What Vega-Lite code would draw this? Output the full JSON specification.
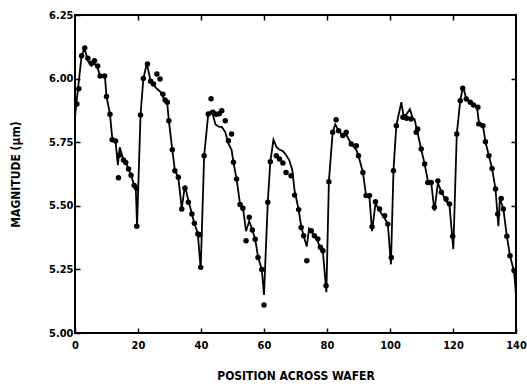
{
  "$schema": "https://vega.github.io/schema/vega-lite/v6.json",
  "width": 441,
  "height": 318,
  "autosize": {"type": "none"},
  "padding": {"left": 75, "top": 15, "right": 11, "bottom": 53},
  "background": "white",
  "config": {
    "view": {"stroke": "black", "strokeWidth": 2},
    "axis": {
      "grid": false,
      "domain": false,
      "tickColor": "black",
      "tickWidth": 1.5,
      "tickSize": -5,
      "labelColor": "black",
      "labelFont": "DejaVu Sans Condensed, DejaVu Sans",
      "labelFontWeight": "bold",
      "labelFontSize": 11,
      "titleColor": "black",
      "titleFont": "DejaVu Sans Condensed, DejaVu Sans",
      "titleFontWeight": "bold",
      "titleFontSize": 12
    }
  },
  "datasets": {
    "pts": [
      {"x": 0.6, "v": 5.90}, {"x": 1.2, "v": 5.96}, {"x": 2.1, "v": 6.09}, {"x": 3.1, "v": 6.12}, {"x": 4.1, "v": 6.08},
      {"x": 5.2, "v": 6.06}, {"x": 6.2, "v": 6.07}, {"x": 7.2, "v": 6.05}, {"x": 8.0, "v": 6.01}, {"x": 9.4, "v": 6.01},
      {"x": 10.0, "v": 5.93}, {"x": 11.1, "v": 5.86}, {"x": 11.8, "v": 5.76}, {"x": 12.9, "v": 5.755}, {"x": 13.8, "v": 5.61},
      {"x": 14.1, "v": 5.70}, {"x": 15.4, "v": 5.68}, {"x": 16.1, "v": 5.67}, {"x": 17.0, "v": 5.645}, {"x": 17.8, "v": 5.62},
      {"x": 18.8, "v": 5.58}, {"x": 19.5, "v": 5.57}, {"x": 19.6, "v": 5.42},
      {"x": 20.8, "v": 5.857}, {"x": 21.7, "v": 6.0}, {"x": 23.0, "v": 6.057}, {"x": 24.0, "v": 5.99}, {"x": 24.9, "v": 5.979},
      {"x": 26.0, "v": 6.018}, {"x": 27.0, "v": 5.998}, {"x": 27.9, "v": 5.939}, {"x": 28.6, "v": 5.916}, {"x": 29.3, "v": 5.907},
      {"x": 29.8, "v": 5.834}, {"x": 30.9, "v": 5.72}, {"x": 31.7, "v": 5.638}, {"x": 32.8, "v": 5.612}, {"x": 33.9, "v": 5.487},
      {"x": 34.9, "v": 5.569}, {"x": 36.0, "v": 5.514}, {"x": 37.1, "v": 5.468}, {"x": 37.9, "v": 5.431}, {"x": 39.0, "v": 5.389},
      {"x": 39.6, "v": 5.386}, {"x": 39.9, "v": 5.258},
      {"x": 41.0, "v": 5.697}, {"x": 42.3, "v": 5.861}, {"x": 43.2, "v": 5.921}, {"x": 43.8, "v": 5.868}, {"x": 44.8, "v": 5.86},
      {"x": 45.8, "v": 5.862}, {"x": 46.6, "v": 5.874}, {"x": 47.7, "v": 5.834}, {"x": 48.7, "v": 5.756}, {"x": 49.7, "v": 5.782},
      {"x": 50.3, "v": 5.671}, {"x": 51.3, "v": 5.605}, {"x": 52.4, "v": 5.505}, {"x": 53.3, "v": 5.49}, {"x": 54.3, "v": 5.363},
      {"x": 55.3, "v": 5.455}, {"x": 56.3, "v": 5.405}, {"x": 57.2, "v": 5.369}, {"x": 58.1, "v": 5.297}, {"x": 59.3, "v": 5.25},
      {"x": 60.0, "v": 5.11},
      {"x": 61.2, "v": 5.514}, {"x": 62.0, "v": 5.673}, {"x": 63.9, "v": 5.697}, {"x": 64.9, "v": 5.684}, {"x": 66.0, "v": 5.668},
      {"x": 67.0, "v": 5.631}, {"x": 68.6, "v": 5.618}, {"x": 69.7, "v": 5.542}, {"x": 71.0, "v": 5.485}, {"x": 71.8, "v": 5.415},
      {"x": 72.6, "v": 5.382}, {"x": 73.6, "v": 5.284}, {"x": 75.0, "v": 5.402}, {"x": 76.0, "v": 5.382}, {"x": 77.1, "v": 5.37},
      {"x": 77.9, "v": 5.337}, {"x": 78.7, "v": 5.323}, {"x": 79.7, "v": 5.186},
      {"x": 80.6, "v": 5.595}, {"x": 81.8, "v": 5.789}, {"x": 82.9, "v": 5.838}, {"x": 83.7, "v": 5.795}, {"x": 85.0, "v": 5.776},
      {"x": 86.1, "v": 5.789}, {"x": 87.7, "v": 5.743}, {"x": 89.3, "v": 5.736}, {"x": 90.0, "v": 5.697}, {"x": 91.4, "v": 5.631},
      {"x": 92.4, "v": 5.54}, {"x": 93.5, "v": 5.54}, {"x": 94.3, "v": 5.418}, {"x": 95.4, "v": 5.516}, {"x": 96.7, "v": 5.487},
      {"x": 98.3, "v": 5.461}, {"x": 99.3, "v": 5.428}, {"x": 100.4, "v": 5.297},
      {"x": 101.1, "v": 5.638}, {"x": 102.0, "v": 5.815}, {"x": 104.1, "v": 5.848}, {"x": 105.3, "v": 5.844}, {"x": 106.7, "v": 5.841},
      {"x": 108.3, "v": 5.789}, {"x": 108.8, "v": 5.802}, {"x": 109.9, "v": 5.723}, {"x": 111.0, "v": 5.664}, {"x": 112.0, "v": 5.592},
      {"x": 113.1, "v": 5.592}, {"x": 114.1, "v": 5.494}, {"x": 115.2, "v": 5.598}, {"x": 116.3, "v": 5.553}, {"x": 117.8, "v": 5.527},
      {"x": 118.9, "v": 5.507}, {"x": 119.9, "v": 5.38},
      {"x": 121.2, "v": 5.782}, {"x": 122.3, "v": 5.913}, {"x": 123.1, "v": 5.962}, {"x": 124.2, "v": 5.92}, {"x": 125.5, "v": 5.907},
      {"x": 126.5, "v": 5.896}, {"x": 127.9, "v": 5.887}, {"x": 128.2, "v": 5.822}, {"x": 129.5, "v": 5.815}, {"x": 130.3, "v": 5.752},
      {"x": 131.4, "v": 5.697}, {"x": 132.4, "v": 5.647}, {"x": 133.5, "v": 5.566}, {"x": 134.2, "v": 5.468}, {"x": 135.3, "v": 5.529},
      {"x": 136.0, "v": 5.487}, {"x": 137.1, "v": 5.38}, {"x": 138.1, "v": 5.304}, {"x": 139.4, "v": 5.245}
    ],
    "fit": [
      {"x": 0.0, "v": 5.85}, {"x": 0.6, "v": 5.92}, {"x": 1.3, "v": 6.0}, {"x": 2.1, "v": 6.09}, {"x": 3.0, "v": 6.12},
      {"x": 4.1, "v": 6.07}, {"x": 5.2, "v": 6.05}, {"x": 6.2, "v": 6.06}, {"x": 7.2, "v": 6.04}, {"x": 8.0, "v": 6.01},
      {"x": 9.5, "v": 6.01}, {"x": 10.0, "v": 5.93}, {"x": 11.1, "v": 5.86}, {"x": 11.8, "v": 5.77}, {"x": 12.9, "v": 5.75},
      {"x": 13.6, "v": 5.66}, {"x": 14.2, "v": 5.73}, {"x": 15.4, "v": 5.68}, {"x": 16.1, "v": 5.67}, {"x": 17.0, "v": 5.645},
      {"x": 17.8, "v": 5.62}, {"x": 18.8, "v": 5.58}, {"x": 19.3, "v": 5.57}, {"x": 19.7, "v": 5.42},
      {"x": 20.8, "v": 5.857}, {"x": 21.7, "v": 6.0}, {"x": 22.8, "v": 6.06}, {"x": 24.0, "v": 5.99}, {"x": 24.9, "v": 5.975},
      {"x": 26.0, "v": 5.96}, {"x": 27.0, "v": 5.95}, {"x": 27.9, "v": 5.93}, {"x": 28.6, "v": 5.91}, {"x": 29.3, "v": 5.9},
      {"x": 29.8, "v": 5.834}, {"x": 30.9, "v": 5.72}, {"x": 31.7, "v": 5.64}, {"x": 32.8, "v": 5.61}, {"x": 33.9, "v": 5.49},
      {"x": 34.9, "v": 5.58}, {"x": 36.0, "v": 5.52}, {"x": 37.1, "v": 5.47}, {"x": 37.9, "v": 5.43}, {"x": 39.0, "v": 5.39},
      {"x": 39.9, "v": 5.25},
      {"x": 41.0, "v": 5.697}, {"x": 42.3, "v": 5.86}, {"x": 43.0, "v": 5.87}, {"x": 43.7, "v": 5.86}, {"x": 44.6, "v": 5.82},
      {"x": 45.8, "v": 5.81}, {"x": 46.6, "v": 5.81}, {"x": 47.7, "v": 5.79}, {"x": 48.7, "v": 5.745}, {"x": 49.7, "v": 5.72},
      {"x": 50.3, "v": 5.671}, {"x": 51.3, "v": 5.605}, {"x": 52.4, "v": 5.507}, {"x": 53.3, "v": 5.494}, {"x": 54.3, "v": 5.40},
      {"x": 55.3, "v": 5.44}, {"x": 56.3, "v": 5.405}, {"x": 57.2, "v": 5.369}, {"x": 58.1, "v": 5.30}, {"x": 59.3, "v": 5.25},
      {"x": 60.0, "v": 5.15},
      {"x": 61.2, "v": 5.514}, {"x": 62.0, "v": 5.673}, {"x": 63.0, "v": 5.76}, {"x": 64.0, "v": 5.73}, {"x": 65.0, "v": 5.72},
      {"x": 66.0, "v": 5.715}, {"x": 67.0, "v": 5.70}, {"x": 68.0, "v": 5.68}, {"x": 69.0, "v": 5.64}, {"x": 69.7, "v": 5.56},
      {"x": 71.0, "v": 5.485}, {"x": 71.8, "v": 5.42}, {"x": 72.6, "v": 5.38}, {"x": 73.6, "v": 5.34}, {"x": 74.3, "v": 5.41},
      {"x": 75.0, "v": 5.40}, {"x": 76.0, "v": 5.38}, {"x": 77.1, "v": 5.36}, {"x": 77.9, "v": 5.33}, {"x": 78.7, "v": 5.32},
      {"x": 79.8, "v": 5.16},
      {"x": 80.6, "v": 5.595}, {"x": 81.8, "v": 5.789}, {"x": 82.6, "v": 5.82}, {"x": 83.7, "v": 5.795}, {"x": 85.0, "v": 5.776},
      {"x": 86.1, "v": 5.78}, {"x": 87.7, "v": 5.743}, {"x": 89.3, "v": 5.72}, {"x": 90.0, "v": 5.697}, {"x": 91.4, "v": 5.631},
      {"x": 92.4, "v": 5.54}, {"x": 93.5, "v": 5.53}, {"x": 94.3, "v": 5.40}, {"x": 95.4, "v": 5.51}, {"x": 96.7, "v": 5.48},
      {"x": 98.3, "v": 5.45}, {"x": 99.3, "v": 5.43}, {"x": 100.3, "v": 5.27},
      {"x": 101.1, "v": 5.638}, {"x": 102.0, "v": 5.815}, {"x": 103.6, "v": 5.907}, {"x": 104.2, "v": 5.86}, {"x": 105.0, "v": 5.855},
      {"x": 106.3, "v": 5.88}, {"x": 107.2, "v": 5.845}, {"x": 107.8, "v": 5.84}, {"x": 108.5, "v": 5.80}, {"x": 109.9, "v": 5.723},
      {"x": 111.0, "v": 5.664}, {"x": 112.0, "v": 5.60}, {"x": 113.1, "v": 5.59}, {"x": 114.1, "v": 5.48}, {"x": 115.2, "v": 5.59},
      {"x": 116.3, "v": 5.555}, {"x": 117.8, "v": 5.52}, {"x": 118.9, "v": 5.50}, {"x": 120.1, "v": 5.33},
      {"x": 121.2, "v": 5.782}, {"x": 122.3, "v": 5.913}, {"x": 123.2, "v": 5.97}, {"x": 124.0, "v": 5.93}, {"x": 125.2, "v": 5.91},
      {"x": 126.5, "v": 5.90}, {"x": 127.6, "v": 5.89}, {"x": 128.2, "v": 5.83}, {"x": 129.5, "v": 5.815}, {"x": 130.3, "v": 5.752},
      {"x": 131.4, "v": 5.697}, {"x": 132.4, "v": 5.647}, {"x": 133.5, "v": 5.566}, {"x": 134.4, "v": 5.42}, {"x": 134.9, "v": 5.53},
      {"x": 136.0, "v": 5.487}, {"x": 137.1, "v": 5.38}, {"x": 138.1, "v": 5.304}, {"x": 139.4, "v": 5.24}, {"x": 140.0, "v": 5.15}
    ]
  },
  "layer": [
    {
      "data": {"name": "fit"},
      "mark": {"type": "line", "color": "black", "strokeWidth": 1.8, "clip": true},
      "encoding": {
        "x": {
          "field": "x", "type": "quantitative",
          "scale": {"domain": [0, 140], "nice": false, "zero": false},
          "axis": {"orient": "bottom", "values": [0, 20, 40, 60, 80, 100, 120, 140], "labelPadding": 11, "title": "POSITION ACROSS WAFER", "titlePadding": 20, "labelFlush": false}
        },
        "y": {
          "field": "v", "type": "quantitative",
          "scale": {"domain": [5, 6.25], "nice": false, "zero": false},
          "axis": {"orient": "left", "values": [5, 5.25, 5.5, 5.75, 6, 6.25], "format": ".2f", "labelPadding": 7, "title": "MAGNITUDE (μm)", "titlePadding": 26, "labelFlush": false}
        }
      }
    },
    {
      "data": {"name": "pts"},
      "mark": {"type": "circle", "color": "black", "opacity": 1, "size": 30},
      "encoding": {
        "x": {
          "field": "x", "type": "quantitative",
          "scale": {"domain": [0, 140], "nice": false, "zero": false},
          "axis": {"orient": "top", "values": [20, 40, 60, 80, 100, 120], "labels": false, "title": null}
        },
        "y": {
          "field": "v", "type": "quantitative",
          "scale": {"domain": [5, 6.25], "nice": false, "zero": false},
          "axis": {"orient": "right", "values": [5.25, 5.5, 5.75, 6], "labels": false, "title": null}
        }
      }
    }
  ],
  "resolve": {"axis": {"x": "independent", "y": "independent"}}
}
